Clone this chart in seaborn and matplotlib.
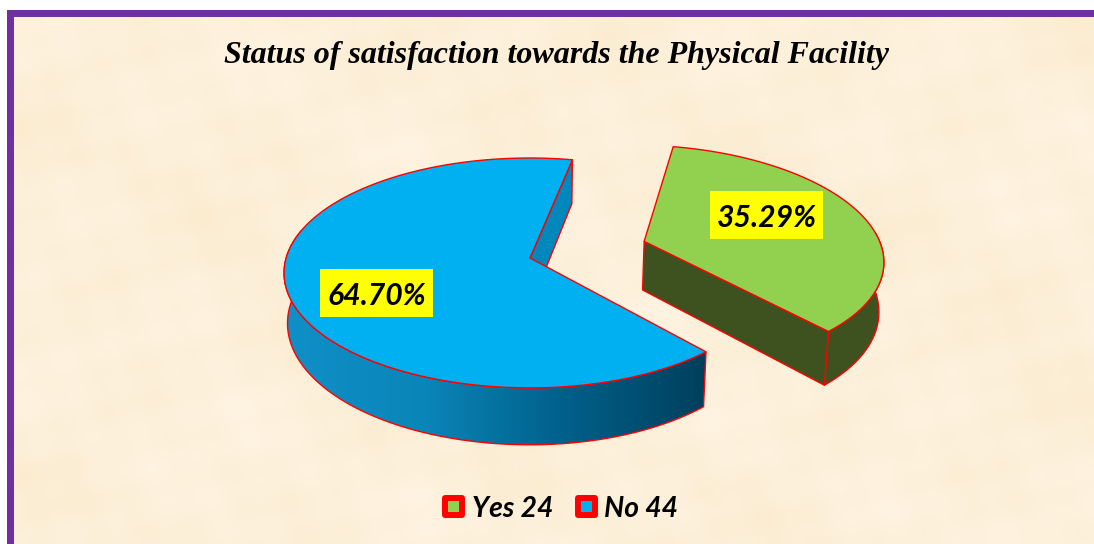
import numpy as np
import matplotlib
matplotlib.use("Agg")
import matplotlib.pyplot as plt
from matplotlib.patches import Polygon, Rectangle
import seaborn as sns

categories = ["Yes", "No"]
counts = [24, 44]
pct_labels = ["35.29%", "64.70%"]
title = "Status of satisfaction towards the Physical Facility"

top_colors = ["#92d050", "#00b0f0"]
cut_colors = ["#3e5220", "#0088bd"]
edge = "#ff0000"
start_deg = 11.5
explode = [(0.485, 0.15), (0.0, 0.0)]

X0, Y0, F, FT, K, DEPTH, XS = 530.0, 258.0, 240.0, 113.0, 0.13, 49.5, 0.986
LEFT_STRETCH = 1.016

sns.set_theme(style="white")
fig = plt.figure(figsize=(10.94, 5.44), dpi=100, facecolor="white")
ax = fig.add_axes([0, 0, 1, 1])
ax.set_xlim(0, 1094)
ax.set_ylim(544, 0)
ax.axis("off")


def project(u, v, bottom=False):
    den = 1 + K * v
    x = F * u / den * np.where(np.asarray(u) < 0, LEFT_STRETCH, 1.0)
    y = -FT * v / den
    if bottom:
        return X0 + XS * x, Y0 + y + DEPTH / den
    return X0 + x, Y0 + y


def rim(a0, a1, off, bottom=False, n=240):
    th = np.radians(np.linspace(a0, a1, n))
    return project(np.sin(th) + off[0], np.cos(th) + off[1], bottom)


# parchment background and frame
gx, gy = np.meshgrid(np.linspace(0, 1094, 220), np.linspace(0, 544, 110))
mottle = (np.sin(gx / 37 + 1.1 * np.sin(gy / 53)) * np.sin(gy / 29 + 0.8 * np.sin(gx / 71))
          + 0.6 * np.sin(gx / 13 + gy / 19) * np.sin(gy / 11 - gx / 23)
          + 0.5 * np.sin(gx / 97 - gy / 61))
paper = sns.blend_palette(["#fbecd0", "#fdf0da", "#fff4e2"], as_cmap=True)
ax.imshow(mottle, extent=(0, 1094, 544, 0), cmap=paper, aspect="auto",
          interpolation="bicubic", zorder=0)
ax.set_xlim(0, 1094)
ax.set_ylim(544, 0)
ax.add_patch(Rectangle((0, 0), 1094, 10, fc="white", ec="none", zorder=1))
ax.add_patch(Rectangle((0, 0), 7, 544, fc="white", ec="none", zorder=1))
ax.add_patch(Rectangle((7, 10), 1087, 6.5, fc="#7030a0", ec="none", zorder=2))
ax.add_patch(Rectangle((7, 10), 6.5, 534, fc="#7030a0", ec="none", zorder=2))

# slices
angles = np.array(counts) / np.sum(counts) * 360
a_start = start_deg
stroke = dict(ec=edge, lw=1.0, joinstyle="round")
wall_grad = sns.blend_palette(["#0f90c8", "#0a85b8", "#00608a", "#003f5c"], as_cmap=True)
for i, (ang, off) in enumerate(zip(angles, explode)):
    a_end = a_start + ang
    ax0, ay0 = project(off[0], off[1])
    bx0, by0 = project(off[0], off[1], True)
    xt, yt = rim(a_start, a_end, off)
    xb, yb = rim(a_start, a_end, off, True)
    deg = np.linspace(a_start, a_end, xt.size)
    top = np.column_stack([np.r_[ax0, xt], np.r_[ay0, yt]])
    # cut face at the end of the arc; the top face hides whatever lies behind it
    cut = [(ax0, ay0), (xt[-1], yt[-1]), (xb[-1], yb[-1]), (bx0, by0)]
    ax.add_patch(Polygon(cut, fc=cut_colors[i], zorder=4, **stroke))
    if i == 0:
        vis = deg > 85
        wall = np.column_stack([np.r_[xt[vis], xb[vis][::-1]], np.r_[yt[vis], yb[vis][::-1]]])
        ax.add_patch(Polygon(wall, fc=cut_colors[i], zorder=3, **stroke))
    else:
        vis = deg < 285
        wall = np.column_stack([np.r_[xt[vis], xb[vis][::-1]], np.r_[yt[vis], yb[vis][::-1]]])
        poly = Polygon(wall, fc="none", ec=edge, lw=1.0, zorder=4.5)
        ax.add_patch(poly)
        x0w, x1w = wall[:, 0].min(), wall[:, 0].max()
        y0w, y1w = wall[:, 1].min(), wall[:, 1].max()
        im = ax.imshow(np.linspace(0, 1, 256)[None, :], extent=(x0w, x1w, y1w, y0w),
                       cmap=wall_grad, aspect="auto", zorder=4.2)
        im.set_clip_path(poly)
        ax.set_xlim(0, 1094)
        ax.set_ylim(544, 0)
    ax.add_patch(Polygon(top, fc=top_colors[i], zorder=5, **stroke))
    a_start = a_end

# data labels
label_boxes = [(710, 191, 113, 48), (320, 269, 113, 48)]
for txt, (bx, by, bw, bh) in zip(pct_labels, label_boxes):
    ax.add_patch(Rectangle((bx, by), bw, bh, fc="#ffff00", ec="none", zorder=6))
    ax.text(bx + bw / 2, by + bh / 2 + 3, txt, ha="center", va="center", zorder=7, color="black",
            family="Lato", weight="bold", style="italic", fontsize=21.7)

# title
ax.text(556, 55, title, ha="center", va="center", color="black", zorder=7,
        family="Liberation Serif", weight="bold", style="italic", fontsize=23.05)

# legend
leg_x = [(442, 472), (575, 604)]
for (sx, tx), c, n, col in zip(leg_x, categories, counts, top_colors):
    ax.add_patch(Rectangle((sx + 3, 498), 17, 17, fc=col, ec=edge, lw=4.3,
                           joinstyle="round", zorder=6))
    ax.text(tx, 509, f"{c} {n}", ha="left", va="center", color="black", zorder=7,
            family="Lato", weight="bold", style="italic", fontsize=20.3)

fig.savefig("out.png", dpi=100, facecolor="white")
